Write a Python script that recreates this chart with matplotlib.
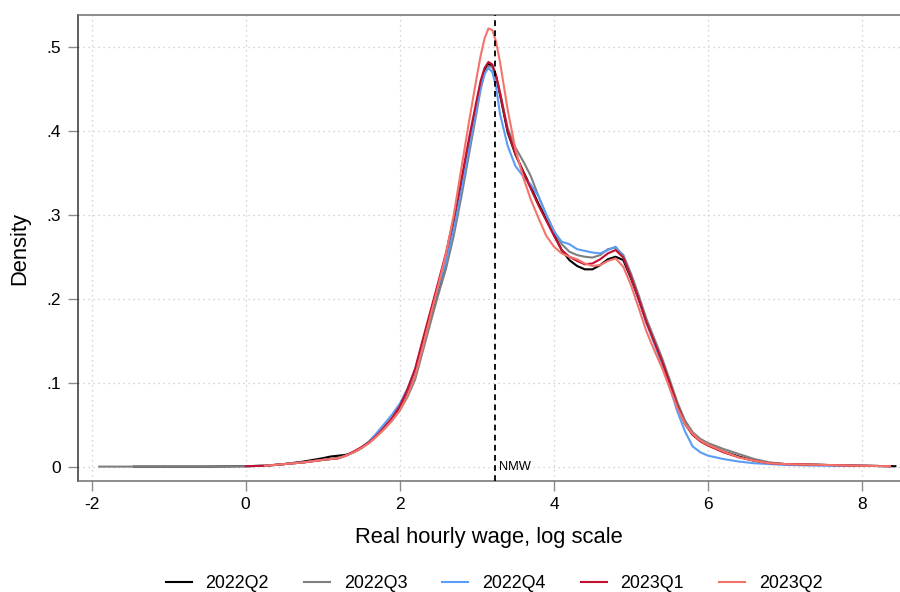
import numpy as np
import matplotlib
matplotlib.use("Agg")
import matplotlib.pyplot as plt

plt.rcParams["font.family"] = ["Liberation Sans", "DejaVu Sans"]

nan = np.nan

# evaluation grid of the kernel density estimates (log real hourly wage)
wage_grid = [-1.9, -1.45, -1.0, -0.5,
             0.0, 0.25, 0.5, 0.75,
             1.0, 1.1, 1.2, 1.3, 1.4, 1.5, 1.6, 1.7, 1.8, 1.9,
             2.0, 2.1, 2.2, 2.3, 2.4, 2.5, 2.6, 2.7, 2.8, 2.9,
             3.0, 3.05, 3.1, 3.15, 3.2, 3.25, 3.3,
             3.4, 3.5, 3.6, 3.7, 3.8, 3.9,
             4.0, 4.1, 4.2, 4.3, 4.4, 4.5, 4.6, 4.7, 4.8, 4.9,
             5.0, 5.1, 5.2, 5.3, 5.4, 5.5, 5.6, 5.7, 5.8, 5.9,
             6.0, 6.2, 6.4, 6.6, 6.8, 7.0, 7.5, 8.0, 8.36, 8.43]

dens_2022q2 = [nan, 0.0, 0.0, 0.0,
               0.0005, 0.001, 0.003, 0.006,
               0.010, 0.012, 0.013, 0.014, 0.017, 0.022, 0.029, 0.037, 0.047, 0.057,
               0.069, 0.086, 0.108, 0.143, 0.178, 0.211, 0.243, 0.285, 0.333, 0.384,
               0.432, 0.455, 0.472, 0.480, 0.477, 0.464, 0.443,
               0.398, 0.372, 0.352, 0.333, 0.313, 0.295,
               0.277, 0.258, 0.246, 0.239, 0.235, 0.235, 0.240, 0.247, 0.250, 0.246,
               0.224, 0.199, 0.172, 0.150, 0.127, 0.101, 0.073, 0.051, 0.038, 0.031,
               0.026, 0.018, 0.012, 0.007, 0.004, 0.003, 0.002, 0.001, 0.0005, 0.0005]

dens_2022q3 = [0.0, 0.0, 0.0, 0.0,
               0.0005, 0.001, 0.003, 0.005,
               0.008, 0.009, 0.010, 0.013, 0.017, 0.022, 0.028, 0.036, 0.045, 0.055,
               0.067, 0.083, 0.104, 0.138, 0.172, 0.205, 0.236, 0.275, 0.322, 0.373,
               0.424, 0.450, 0.468, 0.477, 0.476, 0.465, 0.446,
               0.403, 0.380, 0.364, 0.346, 0.322, 0.300,
               0.281, 0.265, 0.256, 0.252, 0.250, 0.249, 0.252, 0.259, 0.261, 0.252,
               0.230, 0.204, 0.176, 0.153, 0.130, 0.104, 0.077, 0.055, 0.041, 0.033,
               0.028, 0.021, 0.015, 0.009, 0.005, 0.003, 0.002, 0.001, 0.0005, nan]

dens_2022q4 = [nan, nan, nan, nan,
               0.0005, 0.001, 0.003, 0.005,
               0.008, 0.009, 0.010, 0.013, 0.017, 0.023, 0.030, 0.040, 0.051, 0.062,
               0.075, 0.093, 0.116, 0.150, 0.183, 0.214, 0.244, 0.283, 0.330, 0.380,
               0.428, 0.452, 0.468, 0.475, 0.470, 0.452, 0.420,
               0.382, 0.358, 0.346, 0.336, 0.322, 0.300,
               0.280, 0.268, 0.265, 0.259, 0.257, 0.255, 0.254, 0.258, 0.262, 0.250,
               0.226, 0.200, 0.171, 0.147, 0.122, 0.095, 0.066, 0.042, 0.024, 0.017,
               0.013, 0.009, 0.006, 0.004, 0.003, 0.002, 0.001, 0.001, 0.0005, nan]

dens_2023q1 = [nan, nan, nan, nan,
               0.0005, 0.001, 0.003, 0.005,
               0.008, 0.009, 0.010, 0.013, 0.018, 0.023, 0.029, 0.037, 0.047, 0.058,
               0.072, 0.092, 0.117, 0.152, 0.186, 0.220, 0.255, 0.296, 0.343, 0.392,
               0.438, 0.460, 0.475, 0.482, 0.479, 0.466, 0.445,
               0.400, 0.372, 0.351, 0.331, 0.311, 0.293,
               0.275, 0.258, 0.250, 0.245, 0.241, 0.242, 0.247, 0.254, 0.258, 0.249,
               0.226, 0.200, 0.172, 0.149, 0.126, 0.100, 0.073, 0.051, 0.038, 0.030,
               0.025, 0.017, 0.011, 0.007, 0.004, 0.003, 0.002, 0.001, 0.0005, nan]

dens_2023q2 = [nan, nan, nan, nan,
               nan, 0.001, 0.003, 0.005,
               0.008, 0.009, 0.010, 0.013, 0.017, 0.022, 0.028, 0.036, 0.045, 0.055,
               0.067, 0.085, 0.108, 0.143, 0.180, 0.216, 0.254, 0.300, 0.356, 0.412,
               0.465, 0.490, 0.510, 0.522, 0.520, 0.506, 0.482,
               0.425, 0.378, 0.345, 0.318, 0.296, 0.275,
               0.262, 0.254, 0.250, 0.247, 0.242, 0.239, 0.240, 0.245, 0.248, 0.238,
               0.216, 0.189, 0.161, 0.139, 0.118, 0.094, 0.070, 0.051, 0.039, 0.031,
               0.026, 0.018, 0.011, 0.007, 0.004, 0.003, 0.002, 0.001, 0.0005, nan]

quarters = ["2022Q2", "2022Q3", "2022Q4", "2023Q1", "2023Q2"]
colours = ["#000000", "#7f7f7f", "#5b9cf6", "#c4102f", "#f4736b"]
series = [dens_2022q2, dens_2022q3, dens_2022q4, dens_2023q1, dens_2023q2]

nmw_log = 3.23  # national minimum wage, log scale

x_ticks = [-2, 0, 2, 4, 6, 8]
y_ticks = [0, 0.1, 0.2, 0.3, 0.4, 0.5]
y_tick_labels = ["0", ".1", ".2", ".3", ".4", ".5"]

fig = plt.figure(figsize=(9, 5.92), dpi=100)
ax = fig.add_axes([0.0867, 0.1870, 0.9133, 0.7877])

x = np.array(wage_grid)
for name, col, dens in zip(quarters, colours, series):
    assert len(dens) == len(x)
    ax.plot(x, dens, color=col, lw=1.5, label=name, solid_joinstyle="round")

ax.axvline(nmw_log, color="black", lw=1.3, ls=(0, (3.2, 2.4)), zorder=5)
ax.text(nmw_log + 0.06, 0.0, "NMW", fontsize=9.3, va="center", ha="left")

ax.set_xlim(-2.175, 8.49)
ax.set_ylim(-0.0175, 0.538)
ax.set_xticks(x_ticks)
ax.set_xticklabels([str(t) for t in x_ticks])
ax.set_yticks(y_ticks)
ax.set_yticklabels(y_tick_labels)
ax.tick_params(axis="both", direction="out", length=7, width=1,
               color="#8c8c8c", labelsize=12.5, pad=4)
ax.tick_params(axis="y", pad=5)
ax.grid(True, ls=(0, (1, 3)), color="#c8c8c8", lw=0.9)
ax.set_axisbelow(True)

for side in ["top", "bottom"]:
    ax.spines[side].set_color("#6e6e6e")
    ax.spines[side].set_linewidth(1.1)
ax.spines["left"].set_color("#333333")
ax.spines["left"].set_linewidth(1.1)
ax.spines["right"].set_visible(False)

ax.set_xlabel("Real hourly wage, log scale", fontsize=15.8, labelpad=11)
ax.set_ylabel("Density", fontsize=15.8, labelpad=12)

fig.legend(loc="center", bbox_to_anchor=(0.549, 0.014), ncol=5, frameon=False,
           fontsize=12.9, handlelength=1.45, handletextpad=0.78, columnspacing=1.95,
           borderpad=0)

fig.savefig("out.png", dpi=100)
